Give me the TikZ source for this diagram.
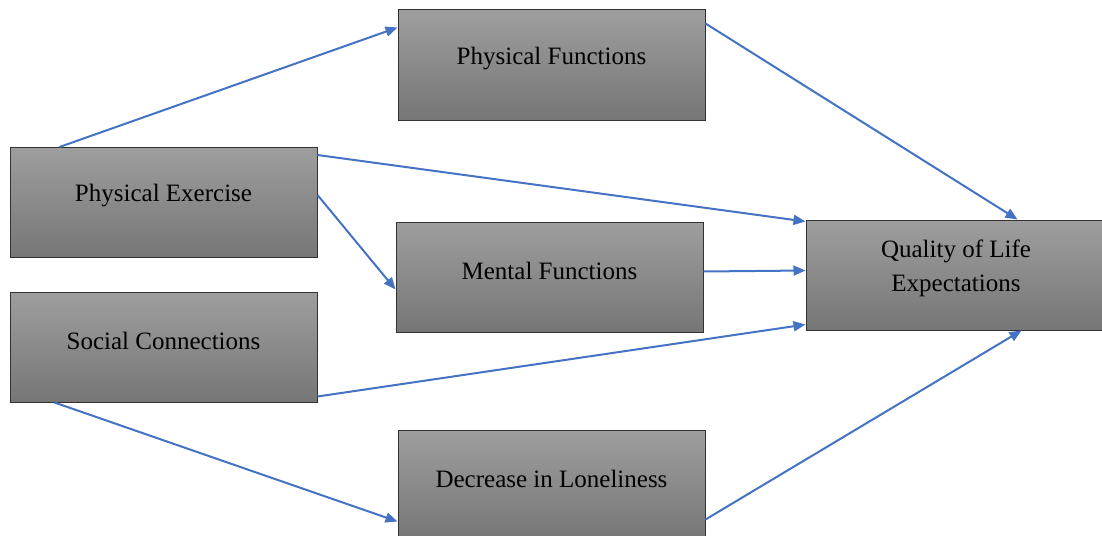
\documentclass[tikz,border=0pt]{standalone}
\usepackage{fontspec}
\setmainfont{Liberation Serif}
\usepackage{xcolor}
\usetikzlibrary{arrows.meta}

\definecolor{wordblue}{RGB}{68,114,196}
\definecolor{boxtop}{RGB}{158,158,158}
\definecolor{boxbottom}{RGB}{118,118,118}
\definecolor{boxline}{RGB}{50,50,50}

\tikzset{
  factor/.style={rectangle, draw=boxline, line width=1pt, top color=boxtop, bottom color=boxbottom,
    minimum width=307pt, minimum height=110pt, inner sep=0pt},
  caption/.style={anchor=center, yshift=-49pt, align=center, font=\fontsize{25}{34}\selectfont, text=black},
  link/.style={every edge/.style={draw, color=wordblue, line width=2pt, -{Triangle[length=12pt,width=10pt]}}}
}

\begin{document}
\begin{tikzpicture}[x=1pt,y=-1pt]
      \useasboundingbox (0,0) rectangle (1102,535);
      \clip (0,0) rectangle (1102,535);

      \node[factor, label={[caption]north:Physical Functions}] (pf) at (551.5,65) {};
      \node[factor, label={[caption]north:Physical Exercise}] (pe) at (163.5,202.5) {};
      \node[factor, label={[caption]north:Social Connections}] (sc) at (163.5,347) {};
      \node[factor, label={[caption]north:Mental Functions}] (mf) at (549.5,277) {};
      \node[factor, label={[caption]north:Decrease in Loneliness}] (dl) at (551.5,485) {};
      \node[factor, minimum width=300pt, label={[caption]north:Quality of Life\\Expectations}] (ql) at (956,275) {};

      \path[link] ([xshift=50pt]pe.north west) edge ([yshift=-18pt]pf.north west)
            ([yshift=-14pt]pf.north east) edge ([xshift=212pt]ql.north west)
            ([yshift=-8pt]pe.north east) edge ([yshift=-2pt]ql.north west)
            ([yshift=-48pt]pe.north east) edge ([yshift=-68pt]mf.north west)
            ([yshift=-50pt]mf.north east) edge ([yshift=-51pt]ql.north west)
            ([yshift=6pt]sc.south east) edge ([yshift=6pt]ql.south west)
            ([xshift=45pt]sc.south west) edge ([yshift=-92pt]dl.north west)
            ([yshift=-90pt]dl.north east) edge ([xshift=216pt]ql.south west)
            ;
    \end{tikzpicture}
\end{document}
